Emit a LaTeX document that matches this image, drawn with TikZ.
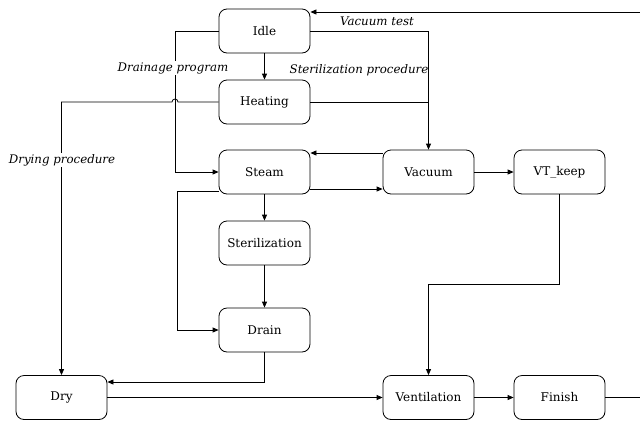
\documentclass[tikz,border=0pt]{standalone}
\usepackage{fontspec}
\newfontfamily\lserif{DejaVu Serif}
\usetikzlibrary{arrows.meta}
\begin{document}
\begin{tikzpicture}[x=1pt,y=-1pt,
 box/.style={draw, line width=0.8pt, rounded corners=8pt, minimum width=91pt, minimum height=44pt, inner sep=0pt, font=\lserif\fontsize{12}{15}\selectfont},
 conn/.style={draw, line width=0.8pt, -{Triangle[length=6pt,width=5pt]}},
 plainline/.style={draw, line width=0.8pt},
 lbl/.style={font=\lserif\fontsize{11.8}{15}\selectfont\itshape, inner sep=1pt}]
\useasboundingbox (0,0) rectangle (640,421);
\clip (0,0) rectangle (640,421);
% nodes
\node[box] (Idle) at (264.5,31) {Idle};
\node[box] (Heating) at (264.5,102) {Heating};
\node[box] (Steam) at (264.5,172) {Steam};
\node[box] (Sterilization) at (264.5,243) {Sterilization};
\node[box] (Drain) at (264.5,330) {Drain};
\node[box] (Vacuum) at (428.5,172) {Vacuum};
\node[box] (VTkeep) at (559.5,172) {VT\_keep};
\node[box] (Dry) at (61.5,397.5) {Dry};
\node[box] (Ventilation) at (428.5,397.5) {Ventilation};
\node[box] (Finish) at (559.5,397.5) {Finish};
% helper coordinates
\coordinate (xL) at (175,0);
\coordinate (xS) at (177,0);
\coordinate (yA) at (0,153);
\coordinate (yB) at (0,189);
\coordinate (yC) at (0,191);
\coordinate (yD) at (0,382);
\coordinate (yM) at (0,284);
\coordinate (topR) at (642,12);
% connectors
\draw[conn] (Idle) -- (Heating);
\draw[conn] (Idle.west) -- (Idle.west -| xL) -- (Steam.west -| xL) -- (Steam.west);
\draw[conn] (Heating.west) -- ([xshift=3pt]Heating.west -| xL)
   arc[start angle=0, end angle=180, radius=3pt]
   -- (Heating.west -| Dry.north) -- (Dry.north);
\draw[conn] (Idle.east) -| (Vacuum.north);
\draw[plainline] (Heating.east) -- (Heating.east -| Vacuum.north);
\draw[conn] (Vacuum.west |- yA) -- (Steam.east |- yA);
\draw[conn] (Steam.east |- yB) -- (Vacuum.west |- yB);
\draw[conn] (Vacuum) -- (VTkeep);
\draw[conn] (VTkeep.south) -- (VTkeep.south |- yM) -| (Ventilation.north);
\draw[conn] (Steam) -- (Sterilization);
\draw[conn] (Sterilization) -- (Drain);
\draw[conn] (Steam.west |- yC) -- (xS |- yC) |- (Drain.west);
\draw[conn] (Drain.south) |- (Dry.east |- yD);
\draw[conn] (Dry) -- (Ventilation);
\draw[conn] (Ventilation) -- (Finish);
\draw[conn] (Finish.east) -| (topR) -- (topR -| Idle.east);
% labels
\node[lbl, fill=white] (lDrain) at (173,68) {Drainage program};
\node[lbl] (lSter) at (359,70) {Sterilization procedure};
\node[lbl] (lVac) at (377,21) {Vacuum test};
\node[lbl, fill=white] (lDry) at (62,160) {Drying procedure};
\end{tikzpicture}
\end{document}
